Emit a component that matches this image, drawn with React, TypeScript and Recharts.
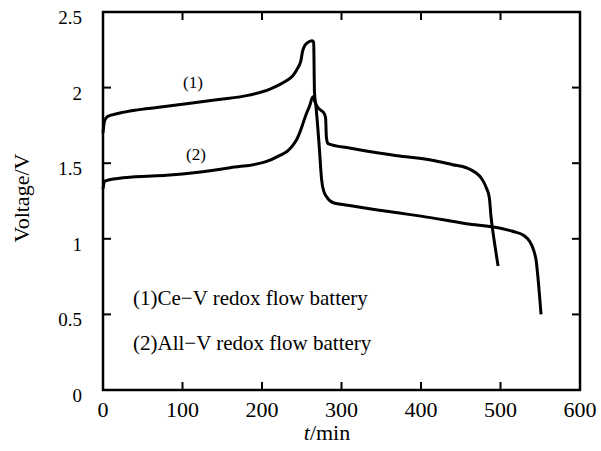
import { LineChart, Line, XAxis, YAxis, ReferenceArea } from "recharts";

// Ce-V cell, curve (1)
const ceTime = [0, 2, 6, 20, 40, 70, 100, 143, 184, 210, 222, 232, 239, 245, 249, 251, 254, 258, 263, 265, 266, 268, 272, 275, 278, 281, 289, 310, 373, 400, 457, 500, 515, 530, 537, 542, 545, 547, 551];
const ceVoltage = [1.7, 1.78, 1.81, 1.83, 1.85, 1.87, 1.89, 1.92, 1.95, 1.99, 2.02, 2.05, 2.08, 2.13, 2.18, 2.24, 2.28, 2.3, 2.31, 2.3, 1.97, 1.87, 1.61, 1.39, 1.31, 1.28, 1.24, 1.22, 1.17, 1.15, 1.1, 1.07, 1.05, 1.02, 0.98, 0.92, 0.85, 0.75, 0.5];

// All-V cell, curve (2)
const allvTime = [0, 2, 8, 40, 80, 120, 160, 205, 222, 232, 239, 244, 248, 252, 256, 260, 264, 267, 270, 274, 278, 280, 281, 283, 310, 331, 370, 414, 440, 457, 468, 476, 482, 486, 488, 492, 497];
const allvVoltage = [1.33, 1.38, 1.39, 1.41, 1.42, 1.44, 1.47, 1.51, 1.55, 1.58, 1.62, 1.66, 1.71, 1.77, 1.83, 1.88, 1.94, 1.9, 1.87, 1.85, 1.83, 1.8, 1.67, 1.63, 1.6, 1.58, 1.55, 1.52, 1.49, 1.47, 1.44, 1.4, 1.34, 1.27, 1.15, 0.99, 0.82];

const xTicks = [0, 100, 200, 300, 400, 500, 600];
const yTicks = [0, 0.5, 1, 1.5, 2, 2.5];

const legendLines = ["(1)Ce\u2212V redox flow battery", "(2)All\u2212V redox flow battery"];

const ceData = ceTime.map((t, i) => ({ t, v: ceVoltage[i] }));
const allvData = allvTime.map((t, i) => ({ t, v: allvVoltage[i] }));

const serif = "Liberation Serif";
const W = 601;
const H = 451;
const M = { top: 12, right: 21, bottom: 0, left: 0 };
const Y_AXIS_W = 103;
const X_AXIS_H = 61;
const PLOT_LEFT = M.left + Y_AXIS_W;
const PLOT_RIGHT = W - M.right;
const PLOT_TOP = M.top;
const PLOT_BOTTOM = H - M.bottom - X_AXIS_H;
const TICK = 8;

// tick label outside, tick marks inward on both opposite sides
function LeftTick({ x, y, payload }: any) {
  const edge = payload.value === 0 || payload.value === 2.5;
  return (
    <g>
      {!edge && <line x1={PLOT_LEFT} x2={PLOT_LEFT + TICK} y1={y} y2={y} stroke="#000" strokeWidth={2} />}
      {!edge && <line x1={PLOT_RIGHT - TICK} x2={PLOT_RIGHT} y1={y} y2={y} stroke="#000" strokeWidth={2} />}
      <text x={PLOT_LEFT - 21} y={y + 12} textAnchor="end" fontSize={19} style={{ fontFamily: serif }} fill="#000">
        {payload.value}
      </text>
    </g>
  );
}

function BottomTick({ x, y, payload }: any) {
  const edge = payload.value === 0 || payload.value === 600;
  return (
    <g>
      {!edge && <line x1={x} x2={x} y1={PLOT_BOTTOM} y2={PLOT_BOTTOM - TICK} stroke="#000" strokeWidth={2} />}
      {!edge && <line x1={x} x2={x} y1={PLOT_TOP} y2={PLOT_TOP + TICK} stroke="#000" strokeWidth={2} />}
      <text x={x} y={PLOT_BOTTOM + 27} textAnchor="middle" fontSize={22} style={{ fontFamily: serif }} fill="#000">
        {payload.value}
      </text>
    </g>
  );
}

export default function App() {
  return (
    <div style={{ position: "absolute", left: 0, top: 0, width: W, height: H, background: "#fff" }}>
      <LineChart width={W} height={H} margin={M}>
        <XAxis
          xAxisId="b"
          type="number"
          dataKey="t"
          domain={[0, 600]}
          ticks={xTicks}
          height={X_AXIS_H}
          axisLine={false}
          tickLine={false}
          tickSize={0}
          tick={<BottomTick />}
          interval={0}
        />
        <YAxis
          yAxisId="l"
          type="number"
          domain={[0, 2.5]}
          ticks={yTicks}
          width={Y_AXIS_W}
          axisLine={false}
          tickLine={false}
          tickSize={0}
          tick={<LeftTick />}
          interval={0}
        />
        <ReferenceArea
          xAxisId="b"
          yAxisId="l"
          x1={0}
          x2={600}
          y1={0}
          y2={2.5}
          fill="none"
          fillOpacity={0}
          stroke="#000"
          strokeWidth={2.5}
          strokeOpacity={1}
          ifOverflow="visible"
        />
        <Line
          xAxisId="b"
          yAxisId="l"
          data={ceData}
          dataKey="v"
          type="monotone"
          stroke="#000"
          strokeWidth={3}
          dot={false}
          isAnimationActive={false}
        />
        <Line
          xAxisId="b"
          yAxisId="l"
          data={allvData}
          dataKey="v"
          type="monotone"
          stroke="#000"
          strokeWidth={3}
          dot={false}
          isAnimationActive={false}
        />
      </LineChart>
      <svg
        width={W}
        height={H}
        style={{ position: "absolute", left: 0, top: 0, pointerEvents: "none", fontFamily: serif }}
        fill="#000"
      >
        <text x={193} y={88} fontSize={17} textAnchor="middle">(1)</text>
        <text x={196} y={160} fontSize={17} textAnchor="middle">(2)</text>
        <text x={133} y={305} fontSize={21}>{legendLines[0]}</text>
        <text x={133} y={350} fontSize={21}>{legendLines[1]}</text>
        <text x={327} y={440} fontSize={22} textAnchor="middle">
          <tspan fontStyle="italic">t</tspan>/min
        </text>
        <text x={29} y={198} fontSize={22} textAnchor="middle" transform="rotate(-90 29 198)">
          Voltage/V
        </text>
      </svg>
    </div>
  );
}
